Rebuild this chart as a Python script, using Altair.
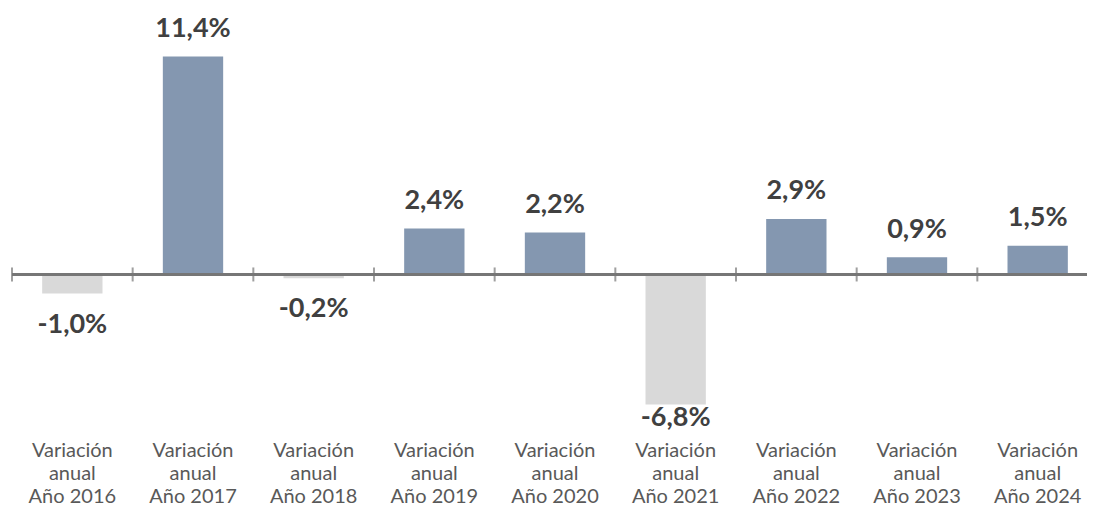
import altair as alt
import pandas as pd

categories = [
    "Variación\nanual\nAño 2016",
    "Variación\nanual\nAño 2017",
    "Variación\nanual\nAño 2018",
    "Variación\nanual\nAño 2019",
    "Variación\nanual\nAño 2020",
    "Variación\nanual\nAño 2021",
    "Variación\nanual\nAño 2022",
    "Variación\nanual\nAño 2023",
    "Variación\nanual\nAño 2024",
]
values = [-1.0, 11.4, -0.2, 2.4, 2.2, -6.8, 2.9, 0.9, 1.5]
labels = ["-1,0%", "11,4%", "-0,2%", "2,4%", "2,2%", "-6,8%", "2,9%", "0,9%", "1,5%"]

df = pd.DataFrame({"cat": categories, "v": values, "lbl": labels})

W = 1075
RANGE_W = 1086
H = 392
YMIN, YMAX = -8.5, 12.0
N = len(categories)
STEP = RANGE_W / N
FONT = "Lato"

xscale = alt.Scale(domain=categories, range=[0, RANGE_W], paddingInner=0.5, paddingOuter=0.25, round=False)

xenc = alt.X(
    "cat:N",
    sort=categories,
    scale=xscale,
    axis=alt.Axis(
        title=None,
        domain=False,
        ticks=False,
        labelAngle=0,
        labelExpr="split(datum.value, '\\n')",
        labelFont=FONT,
        labelFontSize=20,
        labelColor="#595959",
        labelLineHeight=23,
        labelPadding=3,
        labelBaseline="top",
    ),
)
yscale = alt.Scale(domain=[YMIN, YMAX], nice=False, zero=False)

base = alt.Chart(df)

bars = base.mark_bar().encode(
    x=xenc,
    y=alt.Y("v:Q", scale=yscale, axis=None),
    y2=alt.datum(0),
    color=alt.condition("datum.v >= 0", alt.value("#8497B0"), alt.value("#D9D9D9")),
)

zero_line = base.mark_rule(color="#767676", strokeWidth=2).encode(
    x=alt.value(0), x2=alt.value(W), y=alt.Y("zero:Q", scale=yscale)
).transform_calculate(zero="0")

ticks = base.mark_tick(color="#767676", thickness=2, size=14, orient="vertical", xOffset=-STEP / 2).encode(
    x=alt.X("cat:N", sort=categories, scale=xscale),
    y=alt.Y("zero:Q", scale=yscale),
).transform_calculate(zero="0")

text = base.mark_text(
    font=FONT, fontSize=27, fontWeight="bold", color="#404040", baseline="middle"
).encode(
    x=alt.X("cat:N", sort=categories, scale=xscale),
    y=alt.Y("ly:Q", scale=yscale),
    text="lbl:N",
).transform_calculate(
    ly="datum.v >= 0 ? datum.v + 1.45 : max(datum.v - 1.62, -7.53)"
)

chart = alt.layer(bars, zero_line, ticks, text).properties(
    width=W,
    height=H,
    autosize=alt.AutoSizeParams(type="none"),
    padding={"left": 4, "top": 37, "right": 0, "bottom": 71},
).configure_view(stroke=None)

chart.save("out.html", embed_options={"renderer": "svg", "actions": False})
